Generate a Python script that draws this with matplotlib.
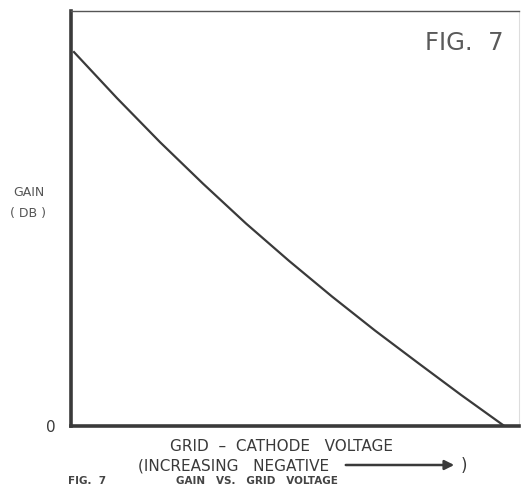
import matplotlib.pyplot as plt

# Gain curve (arbitrary units, 0-100 on both axes)
voltage = [0.67, 10.27, 19.87, 29.46, 39.06, 48.66, 58.26, 67.86,
           77.46, 87.05, 96.73]
gain_db = [90.1, 79.0, 68.4, 58.4, 48.8, 39.8, 31.2, 23.0,
           15.2, 7.5, 0.0]

W, H = 521, 485
INK = '#3a3a3a'


def fx(px):
    return px / W


def fy(py):
    return 1 - py / H


fig = plt.figure(figsize=(W / 100, H / 100), dpi=100)
ax = fig.add_axes([fx(71), fy(427), (519 - 71) / W, (427 - 12) / H])

ax.plot(voltage, gain_db, color=INK, linewidth=1.6)
ax.set_xlim(0, 100)
ax.set_ylim(0, 100)
ax.set_xticks([])
ax.set_yticks([])

ax.spines['left'].set_linewidth(2.6)
ax.spines['bottom'].set_linewidth(2.6)
ax.spines['left'].set_color(INK)
ax.spines['bottom'].set_color(INK)
ax.spines['top'].set_linewidth(1.0)
ax.spines['top'].set_color('#555555')
ax.spines['right'].set_linewidth(0.8)
ax.spines['right'].set_color('#dddddd')

# labels
fig.text(fx(464), fy(43), 'FIG.  7', fontsize=17.5, color='#5a5a5a',
         ha='center', va='center')
fig.text(fx(29), fy(193), 'GAIN', fontsize=9, color='#555555',
         ha='center', va='center')
fig.text(fx(28), fy(213), '( DB )', fontsize=9, color='#555555',
         ha='center', va='center')
fig.text(fx(51), fy(428), '0', fontsize=11, color=INK,
         ha='center', va='center')

fig.text(fx(281), fy(447), 'GRID  \u2013  CATHODE   VOLTAGE', fontsize=11,
         color=INK, ha='center', va='center')
fig.text(fx(234), fy(466), '(INCREASING   NEGATIVE', fontsize=11,
         color=INK, ha='center', va='center')
ax.annotate('', xy=(fx(457), fy(466)), xytext=(fx(343), fy(466)),
            xycoords='figure fraction', textcoords='figure fraction',
            arrowprops=dict(arrowstyle='-|>', color=INK, lw=1.8,
                            mutation_scale=14))
fig.text(fx(464), fy(466), ')', fontsize=12, color=INK,
         ha='center', va='center')

fig.text(fx(87), fy(481), 'FIG.  7', fontsize=7.5, color='#444444',
         fontweight='bold', ha='center', va='center')
fig.text(fx(257), fy(481), 'GAIN   VS.   GRID   VOLTAGE', fontsize=7.5,
         color='#444444', fontweight='bold', ha='center', va='center')

fig.savefig('out.png', dpi=100)
